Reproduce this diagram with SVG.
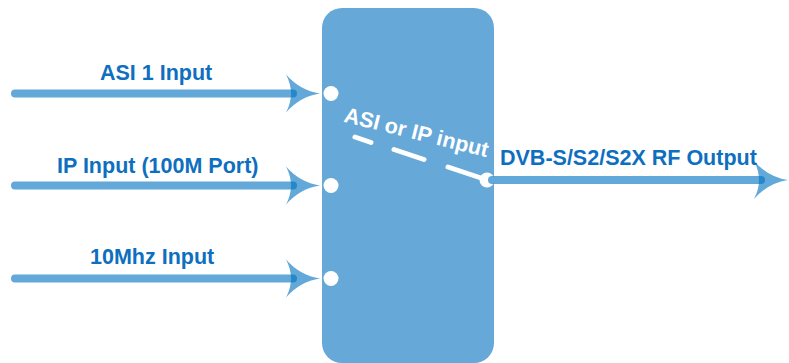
<svg xmlns="http://www.w3.org/2000/svg" width="789" height="363" viewBox="0 0 789 363">
<defs>
<style>
.lbl{font-family:"Liberation Sans",Arial,sans-serif;font-weight:bold;font-size:21.5px;fill:#0e6fbf}
.wl{font-family:"Liberation Sans",Arial,sans-serif;font-weight:bold;font-size:21.5px;fill:#ffffff}
.ln{stroke:#0273c0;stroke-opacity:0.62;stroke-width:8;stroke-linecap:round;fill:none}
.ah{fill:#0273c0;fill-opacity:0.62}
.port{fill:#ffffff}
.dash{stroke:#ffffff;stroke-width:5;stroke-linecap:round;fill:none}
</style>
<path id="head" d="M0,0 Q-20,-3 -34,-19 Q-24,0 -34,19 Q-20,3 0,0 Z"/>
</defs>
<rect width="789" height="363" fill="#ffffff"/>
<g id="block">
<rect x="322" y="8" width="172" height="355" rx="20" ry="20" fill="#66a8d8"/>
<circle class="port" cx="331" cy="93.5" r="7.5"/>
<circle class="port" cx="331" cy="185.5" r="7.5"/>
<circle class="port" cx="331" cy="278.5" r="7.5"/>
<circle class="port" cx="487" cy="180" r="7.5"/>
<line class="dash" x1="355" y1="137" x2="371" y2="142.5"/>
<line class="dash" x1="394" y1="149.5" x2="424" y2="159.5"/>
<line class="dash" x1="448" y1="167" x2="487" y2="180"/>
<text class="wl" transform="translate(343,121.5) rotate(14)">ASI or IP input</text>
</g>
<g id="connectors">
<line class="ln" x1="15" y1="93.5" x2="293" y2="93.5"/>
<use href="#head" class="ah" transform="translate(320,93.5)"/>
<line class="ln" x1="15" y1="185.5" x2="293" y2="185.5"/>
<use href="#head" class="ah" transform="translate(320,185.5)"/>
<line class="ln" x1="15" y1="278.5" x2="293" y2="278.5"/>
<use href="#head" class="ah" transform="translate(320,278.5)"/>
<line class="ln" x1="492" y1="180" x2="761" y2="180"/>
<use href="#head" class="ah" transform="translate(788,180)"/>
</g>
<g id="labels">
<text class="lbl" x="100" y="80">ASI 1 Input</text>
<text class="lbl" x="57" y="173">IP Input (100M Port)</text>
<text class="lbl" x="90" y="264">10Mhz Input</text>
<text class="lbl" x="500" y="165">DVB-S/S2/S2X RF Output</text>
</g>
</svg>
